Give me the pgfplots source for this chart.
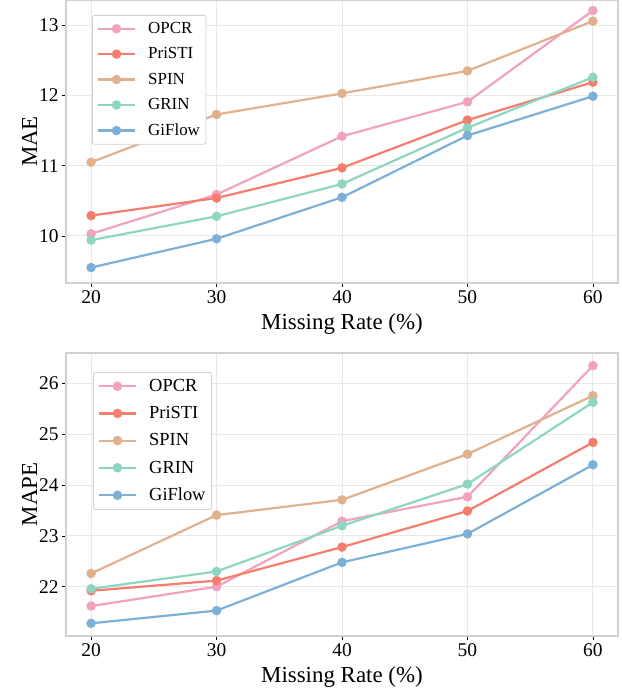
\documentclass[border=0pt]{standalone}
\usepackage{pgfplots}
\pgfplotsset{compat=1.18}
\usepackage{fontspec}
\setmainfont{Liberation Serif}
\definecolor{cOP}{HTML}{F0A2BE}
\definecolor{cPR}{HTML}{F47D6D}
\definecolor{cSP}{HTML}{E1B08C}
\definecolor{cGR}{HTML}{8ED5C2}
\definecolor{cGF}{HTML}{7CB0D7}
\definecolor{gridc}{HTML}{E8E8E8}
\definecolor{framec}{HTML}{D0D0D0}
\pgfplotsset{
  common/.style={
    scale only axis, width=552bp, height=283bp,
    xmin=18, xmax=62,
    xtick={20,30,40,50,60},
    grid=major,
    major grid style={gridc, line width=1bp},
    axis line style={framec, line width=1.2bp},
    tick style={black, line width=0.8bp},
    major tick length=4bp,
    tick align=outside,
    xtick pos=bottom, ytick pos=left,
    ticklabel style={font=\fontsize{19.5}{19.5}\selectfont},
    /pgf/number format/assume math mode=true,
    label style={font=\fontsize{23}{23}\selectfont},
    xlabel={Missing Rate (\%)},
    xlabel style={yshift=-3bp},
    ylabel style={yshift=-5bp},
    legend cell align=left,
    legend style={draw=framec, rounded corners=2bp, line width=0.8bp,
      inner xsep=4bp, inner ysep=5bp},
    legend image code/.code={\draw[mark repeat=2,mark phase=2] plot coordinates {(0cm,0cm) (0.67cm,0cm) (1.34cm,0cm)}; \path (1.68cm,0cm);},
    every axis plot/.append style={line width=2.2bp, mark=*, mark size=3.6bp},
  }
}
\begin{document}
\begin{tikzpicture}
\path[use as bounding box] (-66bp,-408bp) rectangle (556bp,283bp);
\begin{axis}[common, ymin=9.33, ymax=13.36, ytick={10,11,12,13}, ylabel={MAE},
  legend style={at={(26bp,268bp)}, anchor=north west, font=\fontsize{17}{17}\selectfont, row sep=8.7bp}]
\addplot[cOP, mark options={fill=cOP}] coordinates {(20,10.03) (30,10.59) (40,11.42) (50,11.91) (60,13.21)};
\addplot[cPR, mark options={fill=cPR}] coordinates {(20,10.29) (30,10.54) (40,10.97) (50,11.65) (60,12.19)};
\addplot[cSP, mark options={fill=cSP}] coordinates {(20,11.05) (30,11.73) (40,12.03) (50,12.35) (60,13.06)};
\addplot[cGR, mark options={fill=cGR}] coordinates {(20,9.94) (30,10.28) (40,10.74) (50,11.54) (60,12.26)};
\addplot[cGF, mark options={fill=cGF}] coordinates {(20,9.55) (30,9.96) (40,10.55) (50,11.43) (60,11.99)};
\legend{OPCR, PriSTI, SPIN, GRIN, GiFlow}
\end{axis}
\begin{axis}[common, at={(0,-353bp)}, ymin=21.03, ymax=26.6, ytick={22,23,24,25,26}, ylabel={MAPE},
  legend style={at={(27bp,264bp)}, anchor=north west, font=\fontsize{18.5}{18.5}\selectfont, row sep=9.5bp}]
\addplot[cOP, mark options={fill=cOP}] coordinates {(20,21.62) (30,22.00) (40,23.29) (50,23.77) (60,26.35)};
\addplot[cPR, mark options={fill=cPR}] coordinates {(20,21.92) (30,22.12) (40,22.78) (50,23.49) (60,24.84)};
\addplot[cSP, mark options={fill=cSP}] coordinates {(20,22.26) (30,23.41) (40,23.71) (50,24.61) (60,25.76)};
\addplot[cGR, mark options={fill=cGR}] coordinates {(20,21.96) (30,22.30) (40,23.20) (50,24.02) (60,25.63)};
\addplot[cGF, mark options={fill=cGF}] coordinates {(20,21.28) (30,21.53) (40,22.48) (50,23.04) (60,24.40)};
\legend{OPCR, PriSTI, SPIN, GRIN, GiFlow}
\end{axis}
\end{tikzpicture}
\end{document}
